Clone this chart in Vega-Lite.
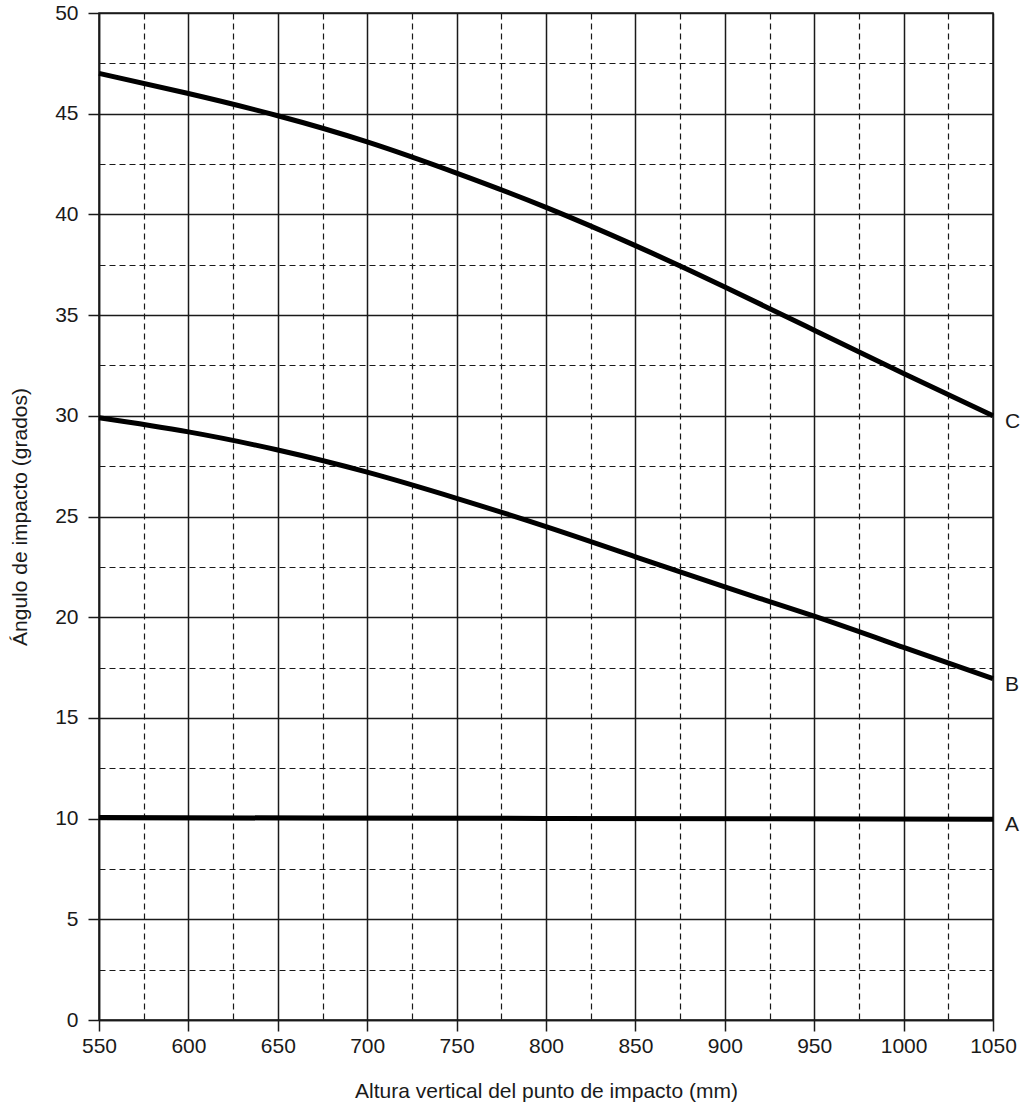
{
  "$schema": "https://vega.github.io/schema/vega-lite/v6.json",
  "width": 894,
  "height": 1007,
  "autosize": "none",
  "padding": {"left": 99, "top": 13, "right": 28, "bottom": 97},
  "background": "white",
  "config": {
    "view": {"stroke": "#1a1a1a", "strokeWidth": 1.5},
    "font": "Liberation Sans",
    "axis": {
      "labelFont": "Liberation Sans",
      "titleFont": "Liberation Sans",
      "labelFontSize": 21,
      "titleFontSize": 21,
      "labelColor": "#1a1a1a",
      "titleColor": "#1a1a1a",
      "titleFontWeight": "normal",
      "domainColor": "#1a1a1a",
      "domainWidth": 1.5,
      "tickColor": "#1a1a1a",
      "tickWidth": 1.5,
      "gridColor": "#1a1a1a",
      "gridWidth": 1.5,
      "gridOpacity": 1
    }
  },
  "data": {
    "values": [
      {"serie": "C", "x": 550, "y": 47.0},
      {"serie": "C", "x": 600, "y": 46.0},
      {"serie": "C", "x": 650, "y": 44.9},
      {"serie": "C", "x": 700, "y": 43.6},
      {"serie": "C", "x": 750, "y": 42.05},
      {"serie": "C", "x": 800, "y": 40.35},
      {"serie": "C", "x": 850, "y": 38.45},
      {"serie": "C", "x": 900, "y": 36.4},
      {"serie": "C", "x": 950, "y": 34.25},
      {"serie": "C", "x": 1000, "y": 32.1},
      {"serie": "C", "x": 1050, "y": 30.0},
      {"serie": "B", "x": 550, "y": 29.9},
      {"serie": "B", "x": 600, "y": 29.2},
      {"serie": "B", "x": 650, "y": 28.3},
      {"serie": "B", "x": 700, "y": 27.2},
      {"serie": "B", "x": 750, "y": 25.9},
      {"serie": "B", "x": 800, "y": 24.5},
      {"serie": "B", "x": 850, "y": 23.0},
      {"serie": "B", "x": 900, "y": 21.5},
      {"serie": "B", "x": 950, "y": 20.05},
      {"serie": "B", "x": 1000, "y": 18.5},
      {"serie": "B", "x": 1050, "y": 16.95},
      {"serie": "A", "x": 550, "y": 10.05},
      {"serie": "A", "x": 800, "y": 10.01},
      {"serie": "A", "x": 1050, "y": 9.97}
    ]
  },
  "encoding": {
    "x": {
      "field": "x",
      "type": "quantitative",
      "scale": {"domain": [550, 1050], "nice": false, "zero": false},
      "axis": {
        "title": "Altura vertical del punto de impacto (mm)",
        "values": [550, 575, 600, 625, 650, 675, 700, 725, 750, 775, 800, 825, 850, 875, 900, 925, 950, 975, 1000, 1025, 1050],
        "format": "d",
        "labelExpr": "datum.value % 50 === 0 ? datum.label : ''",
        "labelFlush": false,
        "labelOverlap": false,
        "tickSize": 11,
        "labelPadding": 4,
        "titlePadding": 24,
        "tickOpacity": {"condition": {"test": "datum.value % 50 === 0", "value": 1}, "value": 0},
        "gridDash": {"condition": {"test": "datum.value % 50 === 0", "value": []}, "value": [6, 4]},
        "gridWidth": {"condition": {"test": "datum.value % 50 === 0", "value": 1.5}, "value": 1.2}
      }
    },
    "y": {
      "field": "y",
      "type": "quantitative",
      "scale": {"domain": [0, 50], "nice": false},
      "axis": {
        "title": "Ángulo de impacto (grados)",
        "values": [0, 2.5, 5, 7.5, 10, 12.5, 15, 17.5, 20, 22.5, 25, 27.5, 30, 32.5, 35, 37.5, 40, 42.5, 45, 47.5, 50],
        "labelExpr": "datum.value % 5 === 0 ? datum.label : ''",
        "labelFlush": false,
        "labelOverlap": false,
        "tickSize": 11,
        "labelPadding": 10,
        "titlePadding": 24,
        "tickOpacity": {"condition": {"test": "datum.value % 5 === 0", "value": 1}, "value": 0},
        "gridDash": {"condition": {"test": "datum.value % 5 === 0", "value": []}, "value": [6, 4]},
        "gridWidth": {"condition": {"test": "datum.value % 5 === 0", "value": 1.5}, "value": 1.2}
      }
    }
  },
  "layer": [
    {
      "mark": {"type": "line", "color": "black", "strokeWidth": 5, "interpolate": "natural", "strokeCap": "butt"},
      "encoding": {"detail": {"field": "serie"}}
    },
    {
      "transform": [{"filter": "datum.x === 1050"}],
      "mark": {"type": "text", "align": "left", "baseline": "middle", "dx": 12, "dy": 6, "fontSize": 21, "font": "Liberation Sans", "color": "#1a1a1a"},
      "encoding": {"text": {"field": "serie"}}
    }
  ]
}
